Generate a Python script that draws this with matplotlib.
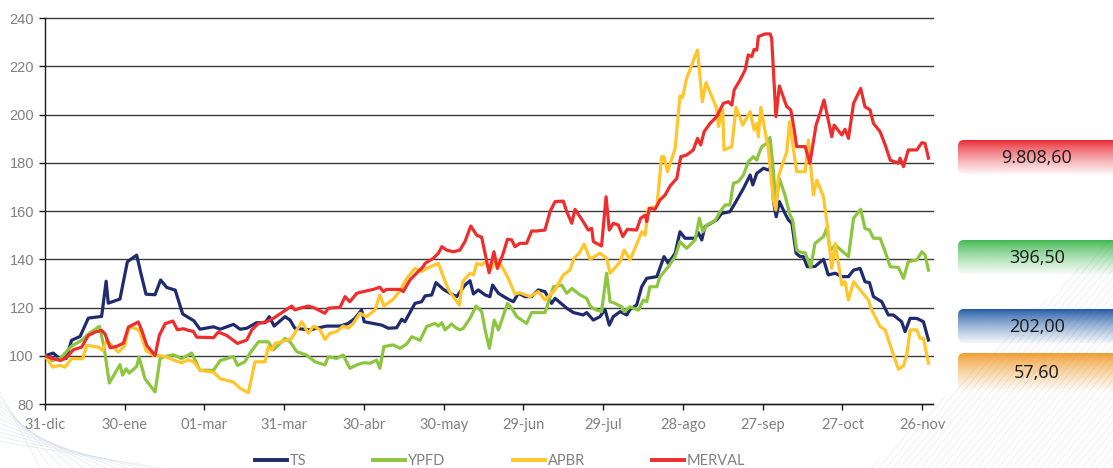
import numpy as np
import matplotlib
matplotlib.use('Agg')
import matplotlib.pyplot as plt
from matplotlib.patches import FancyBboxPatch, Polygon
from matplotlib.lines import Line2D
from matplotlib.colors import to_rgb

# ---------------- data (day offset from 31-dic, index value) ----------------
ts_points = [(0,100),(3.1,101.1),(5.6,98.8),(7.9,98.8),(10,106.4),(13.2,108),(16.3,115.6),(21.3,116.3),(23,130.9),(23.8,121.8),(28.2,123.5),(31,139),(34.5,141.7),(36,134.5),(38,125.5),(41.4,125.3),(43.5,131.4),(45.8,128.3),(49,127.2),(51.8,117.3),(56,114.5),(58.3,111),(63.4,112),(65.9,111),(70.9,113),(73.4,111),(75.9,111.4),(79.6,113.7),(82.8,113.7),(84.4,116.2),(86.2,112.3),(90.3,116.2),(92.2,114.8),(94,111.4),(99.7,110.7),(102.2,111.4),(106,112.3),(111,112.3),(114.1,113.4),(116.6,115.5),(119.1,119),(120.1,114.1),(123.5,113.4),(126.7,112.7),(129.2,111.4),(132.3,111.6),(134.2,115.1),(135.4,114.1),(139.2,121.7),(141.7,122.4),(143,124.8),(145.5,125.2),(147.1,130.3),(149.9,127.5),(152.4,125.9),(154.9,124.5),(158,129.3),(159.9,131.1),(161.2,125.6),(163,127.3),(165.6,125.2),(167.4,124.5),(168.4,129.3),(170.6,125.9),(173.7,123.8),(176.2,122.4),(178.1,125.9),(180.6,124.5),(183.1,124.5),(185.6,127.3),(188.1,126.6),(190.6,121.7),(191.9,123.8),(196.3,119.7),(198.8,117.9),(202.5,116.9),(203.8,117.9),(206.3,114.8),(208.8,116.2),(210.7,119.2),(212.3,112.7),(213.8,116.2),(216.4,118.3),(218.9,116.9),(220.1,119.2),(222.6,121),(224.5,128.6),(226.4,132.1),(230.2,132.8),(232.9,141.1),(234.5,138.3),(237.1,142.5),(238.9,151.4),(240.8,148.7),(244.6,148.7),(245.8,151),(247.1,148),(248.3,153.5),(252.7,156.3),(254.6,159),(257.7,159.7),(259.6,163.2),(262.8,169.4),(265.3,174.9),(266.3,170.8),(267.8,175.6),(270.3,177.7),(272.2,177),(273.3,178.5),(274.1,164),(275.1,157.6),(276.3,163.9),(278.4,159),(279.7,156.3),(281,154.9),(282.6,142.5),(284.1,141.1),(285.3,141.1),(286.8,136.9),(289.7,137),(292.9,140),(294.7,133.5),(297.3,134.2),(299.8,132.8),(302.3,132.8),(304.2,135.5),(306.7,136.2),(308.5,130.7),(310.2,130.3),(311.7,124.5),(314.8,122.4),(317.3,116.9),(319.2,116.9),(322.3,114.1),(323.6,110),(325.5,115.5),(328,115.5),(330.5,114.1),(332.4,106.5)]

ypfd_points = [(0,100),(2.5,98),(5.6,98.8),(7.5,101),(10,104),(13.8,106.4),(16.3,109),(20.5,112.2),(22.2,103.6),(24.2,88.7),(28.2,96.3),(29.2,92),(30.5,94.6),(31.7,92.8),(34.5,95.6),(35.4,99.4),(37.6,90.5),(41.4,85),(43.3,98.8),(45.2,99.7),(48.3,100.4),(51.4,98.8),(55.2,101.1),(58.3,94),(63.4,94),(65.9,98),(70.9,99.7),(72.4,96),(75.2,97.5),(77.1,101),(80.3,105.8),(84,105.8),(85.9,102.4),(90.3,107.2),(92.2,105.8),(94.7,101.7),(98.4,100.3),(101.6,97.5),(105.3,96.2),(106.6,99.6),(109.7,98.9),(112.2,100.3),(114.7,94.8),(117.3,96.2),(119.8,97.1),(122.3,96.9),(124.8,98.2),(126,94.8),(127.5,103.8),(131,104.5),(133.6,103.1),(136.1,104.9),(138,107.9),(141.1,106.4),(143.6,112.1),(146.7,113.4),(148,112.3),(149.3,113.7),(150.5,110.7),(153,113.2),(154.3,111.8),(156.1,110.7),(157.4,111.4),(159.9,115.5),(162.2,120.6),(164.3,118.3),(165.6,110.7),(167.2,103.1),(169,114.8),(170.6,110.7),(174,121.7),(175.6,119.7),(177.5,116.2),(181.2,113.4),(183.1,117.9),(188.1,117.9),(191.3,128.6),(194.4,129.3),(196.3,125.9),(198.2,127.9),(201.3,125.2),(203.8,123.8),(205.1,120.6),(206.9,119.2),(209.4,118.3),(211.3,134.2),(212.6,122.4),(214.5,121.7),(217,120.3),(217.9,118.3),(220.1,120.3),(223.3,118.9),(225.1,123.1),(226.4,122.4),(227.6,128.6),(230.2,128.6),(231.4,132.8),(234.5,136.9),(237.1,141.1),(238.9,147.3),(241.4,144.5),(244.6,148),(246.2,157),(247.5,151.4),(249,154.2),(252.1,156),(254,159.7),(255.9,162.5),(257.7,162.5),(259,171.5),(260.9,172.2),(262.8,174.9),(264.6,180.4),(266.5,182.5),(267.8,181.1),(268.4,183.2),(269.7,186.7),(271.5,188),(272.8,190.5),(274,177),(275,161.8),(276.3,173.5),(278.4,166.6),(280.3,158.3),(281.3,156.3),(282.8,143.8),(284.7,142.7),(286,142.7),(288.1,136.6),(289.7,146.6),(292.9,149.4),(294.1,152.8),(295.4,143.8),(297.3,145.9),(302.3,141.1),(304.2,157),(306.9,160.7),(308.5,152.8),(310.2,152.1),(311.7,148.7),(314.2,148.7),(316.1,143.1),(318,136.9),(321.1,136.6),(323,132.1),(324.8,139),(328,139.7),(329.9,143.1),(331.1,141.8),(332.4,135.5)]

apbr_points = [(0,100),(2.9,95.3),(5.6,96),(7.5,95.3),(10,98.8),(14.2,98.8),(15.7,104.3),(20.1,103.6),(21.7,102.2),(23.2,106.4),(25.1,104.3),(27.6,101.5),(30.1,104.3),(31.4,111.9),(34.5,111.2),(35.8,109.8),(38,102.2),(40.8,100.1),(43.3,100.1),(45.8,99.4),(48.9,98),(51.4,97.1),(54,98.3),(56.1,97.4),(58.3,94),(60.9,93.5),(63.4,93.2),(65.9,90.5),(68.4,89.8),(70.9,89.1),(73.4,86.5),(76.5,84.7),(79,97.5),(82.8,97.5),(84,103.8),(85.3,102.4),(86.5,105.1),(90.3,106.2),(92.8,107.2),(96.6,114.1),(99.1,109.3),(101,112.3),(103.5,110.7),(105.3,106.8),(107.2,109.3),(109.7,110),(112.2,112.3),(114.1,111.4),(116,113.4),(118.5,117.6),(121,116.2),(124.2,119),(126,125.2),(127.5,120.6),(131,123.4),(133.6,127),(136.1,132.1),(139.2,136.2),(141.7,134.9),(143.6,136.2),(148,138.3),(149.6,133.5),(151.8,127.3),(153.6,124.5),(155.9,121),(157.1,130.7),(159.9,134.2),(161.2,133.5),(162.4,138.3),(164.3,137.6),(165.6,139),(167.4,135.5),(170,139.7),(171.2,138.3),(174,132.8),(176.8,125.6),(178.7,126.1),(182.5,124.5),(185.6,126.6),(188.1,123.1),(191.9,127.3),(195,133.5),(197.5,135.5),(199,140.4),(201.1,142.7),(202.8,146.3),(205.1,140),(208.8,142.5),(211.3,140.4),(212.6,134.2),(216.4,139),(217.9,143.8),(220.1,139.7),(223.3,148),(224.5,151.4),(225.8,150),(227,161.1),(230.2,161.8),(232,182.5),(232.9,182.5),(234.2,176.3),(237.1,186),(238.9,207.7),(239.9,207.1),(241.4,215),(245.5,226.7),(247.3,205.3),(248.7,213.2),(252.7,202.6),(253.4,195),(255,201.9),(255.5,185.3),(258.4,186.7),(260,203),(262.5,195.6),(265.3,201.2),(266.8,193.6),(267.8,196.3),(268.4,190.8),(269.3,203),(272.2,185.3),(274,164.6),(275,160.4),(275.9,174.2),(279.1,184.6),(280.1,197),(281.3,188),(282.8,176.3),(286,176.3),(287.2,189.4),(289.1,166.6),(290.4,172.8),(292.9,165.9),(294.4,153.5),(296,136.2),(297.3,146.6),(299.8,129.3),(301,130.7),(302.3,123.1),(304.2,130.7),(306.7,127.3),(309.8,123.1),(311,119),(314.2,112.1),(316.1,110.7),(318.6,102.4),(321.1,94.4),(323,95.8),(324.2,100.3),(325.5,110.7),(328,110.7),(329.2,107.2),(330.5,107.2),(332.4,96.9)]

merval_points = [(0,100),(2.5,99),(5.9,98),(8.2,99.4),(10.7,102.5),(13.8,103.6),(16.3,108.4),(18.8,109.8),(21.3,110.5),(22.6,109),(24.5,103.3),(27,103.9),(29.5,105.2),(31.4,111.9),(35.1,114),(36.4,110.5),(38.3,104.3),(41.4,100.1),(43,108.4),(45.2,113.3),(48.1,114.4),(49.8,110.8),(52.1,111.2),(54,110.5),(55.8,110.1),(57.1,107.7),(63.4,107.5),(65.2,109.8),(68.4,108.4),(72.4,105.1),(75.9,106.5),(77.8,110.7),(80.3,113.4),(83.4,114.1),(85.9,115.5),(89.7,118.3),(92.8,120.6),(94,119),(95.9,119.7),(99.1,120.6),(101.6,119.7),(105.3,117.6),(106.6,119.7),(111,120.1),(112.9,124.5),(114.7,122.4),(117.3,125.9),(119.8,126.6),(123.5,127.5),(126,128.4),(127.3,126.6),(128.5,127.5),(133.6,127.5),(134.8,126.6),(137.3,131.4),(139.8,134.2),(142.3,136.9),(143,138.3),(146.1,140.4),(148,142.5),(149.3,145.2),(151.1,143.8),(153.6,143.1),(156.1,143.8),(158,147.3),(160.2,153.8),(162.4,150),(164.3,149.1),(167.1,134.4),(168.9,143.1),(170.2,136.2),(172.2,141.8),(174,148.3),(175.6,148),(176.8,145.2),(178.7,146.6),(181.2,146.6),(183.1,151.7),(185,151.7),(188.1,152.1),(190,159.7),(191.9,163.9),(195,164.1),(196.3,159.7),(198.2,154.9),(199.4,160.7),(202.5,155.6),(204.4,152.1),(205.7,152.8),(206.3,147.3),(209.4,145.5),(211.1,165.9),(212.3,152.1),(213.8,154.9),(215.7,154.2),(217.4,149.4),(219.1,152.4),(222.6,152.1),(224.1,157),(225.8,158.3),(226.4,155.6),(227.4,161.1),(229.5,160.7),(231.4,164.6),(233.3,166.6),(235.2,170.4),(237.7,173.5),(239.2,182.5),(241.4,183.2),(243.9,185.3),(245.5,190.1),(246.7,187.4),(248,192.9),(250.2,196.3),(252.7,199.1),(255.2,204.6),(257.1,205.3),(258.4,203.9),(259.3,210.2),(261.5,214.3),(263.4,218.4),(264.6,224.7),(265.9,224),(266.8,227),(267.8,226.7),(268.4,232.3),(270.9,233.4),(272.8,233.4),(273.4,231.6),(275,199.1),(276.3,211.8),(279.1,203.2),(280.6,201.9),(281.8,194.3),(282.8,186.7),(286,186.7),(287.8,179.8),(290.1,195.6),(291.6,200.5),(293.1,206),(296,190.8),(296.9,195.6),(299.8,191.5),(301,193.9),(302.3,190.1),(304.2,204.6),(306.9,210.8),(308.5,203.2),(310.4,201.9),(311.7,196.3),(314.2,192.9),(316.1,187.4),(318,181.1),(321.1,179.8),(321.7,181.9),(323,178.4),(324.8,185.3),(328,185.3),(329.9,188.3),(331.1,188),(332.4,181.9)]

series_names = ['TS', 'YPFD', 'APBR', 'MERVAL']
tick_days = [0, 30, 60, 90, 120, 150, 180, 210, 240, 270, 300, 330]
tick_labels = ['31-dic', '30-ene', '01-mar', '31-mar', '30-abr', '30-may', '29-jun',
               '29-jul', '28-ago', '27-sep', '27-oct', '26-nov']
y_ticks = [80, 100, 120, 140, 160, 180, 200, 220, 240]
end_labels = ['9.808,60', '396,50', '202,00', '57,60']

# ---------------- styling ----------------
colors = {'TS': '#1f2b6e', 'YPFD': '#8cc63f', 'APBR': '#ffc52a', 'MERVAL': '#ee2d2d'}
box_colors = ['#e8212b', '#3ab54a', '#1a55a3', '#f09a2a']
box_rows = [(140, 174), (240, 274), (309, 343), (353, 390)]
GREY = '#808080'

W, H = 1113, 468
fig = plt.figure(figsize=(W / 100, H / 100), dpi=100)

# background decoration axes in pixel coordinates
bg = fig.add_axes([0, 0, 1, 1])
bg.set_xlim(0, W); bg.set_ylim(H, 0); bg.axis('off')

# faint diagonal lines bottom-right
tri = Polygon([(870, H), (W, H), (W, 235)], closed=True, transform=bg.transData,
              facecolor='none', edgecolor='none')
bg.add_patch(tri)
for k in range(60):
    x0 = 760 + k * 7
    ln, = bg.plot([x0, x0 + 330], [H, H - 400], color='#d3d9e4', lw=0.5, alpha=0.6, zorder=0)
    ln.set_clip_path(tri)
# faint fan bottom-left
for k in range(12):
    bg.plot([0, 40 + k * 11], [392 + k * 4.5, H], color='#d3d9e4', lw=0.5, alpha=0.6, zorder=0)

# gradient boxes
for (y0, y1), c, lab in zip(box_rows, box_colors, end_labels):
    n = 80
    t = np.linspace(0, 1, n)
    rgb = np.array(to_rgb(c))
    img = np.ones((n, 1, 4))
    img[:, 0, :3] = rgb
    img[:, 0, 3] = np.clip(1.0 - 0.95 * t ** 0.75, 0, 1)
    im = bg.imshow(img, extent=[958, W + 10, y1, y0], origin='upper', aspect='auto',
                   zorder=1, interpolation='bilinear')
    clip = FancyBboxPatch((958, y0), W + 20 - 958, y1 - y0,
                          boxstyle='round,pad=0,rounding_size=6',
                          transform=bg.transData, facecolor='none', edgecolor='none')
    bg.add_patch(clip)
    im.set_clip_path(clip)
    bg.text(1037, (y0 + y1) / 2 + 1, lab, ha='center', va='center', fontsize=13,
            color='#1a1a1a', family=['Open Sans', 'DejaVu Sans'], zorder=3)
bg.set_xlim(0, W); bg.set_ylim(H, 0)

# main axes
ax = fig.add_axes([45 / W, 1 - 404 / H, (933 - 45) / W, (404 - 18) / H])
ax.set_xlim(0, 334.1)
ax.set_ylim(80, 240)
ax.patch.set_alpha(0)

for name, pts in zip(series_names, [ts_points, ypfd_points, apbr_points, merval_points]):
    d = [p[0] for p in pts]
    v = [p[1] for p in pts]
    ax.plot(d, v, color=colors[name], lw=2.3, solid_joinstyle='round', zorder=3, label=name)

ax.set_yticks(y_ticks)
ax.set_xticks(tick_days)
ax.set_xticklabels(tick_labels)
ax.yaxis.grid(True, color='#3a3a3a', lw=1.0, zorder=1)
for gl in ax.get_ygridlines():
    gl.set_clip_on(False)
ax.set_axisbelow(True)
for s in ['top', 'right']:
    ax.spines[s].set_visible(False)
for s in ['left', 'bottom']:
    ax.spines[s].set_color('#1a1a1a')
    ax.spines[s].set_linewidth(1.0)
ax.tick_params(axis='both', direction='out', length=4, width=1, color='#1a1a1a')
ax.tick_params(axis='y', pad=4, labelsize=10.5, labelcolor=GREY)
ax.tick_params(axis='x', pad=6, labelsize=10.5, labelcolor=GREY)
for lbl in ax.get_yticklabels():
    lbl.set_family(['Liberation Sans', 'DejaVu Sans'])
for lbl in ax.get_xticklabels():
    lbl.set_family(['Lato', 'DejaVu Sans'])

handles = [Line2D([0], [0], color=colors[n], lw=2.8) for n in series_names]
leg = fig.legend(handles, series_names, loc='center', bbox_to_anchor=(500 / W, 1 - 461 / H),
                 ncol=4, frameon=False, handlelength=2.2, handletextpad=0.2,
                 columnspacing=4.6, prop={'family': ['Lato', 'DejaVu Sans'], 'size': 10.5})
for t in leg.get_texts():
    t.set_color(GREY)

fig.savefig('out.png', dpi=100)
